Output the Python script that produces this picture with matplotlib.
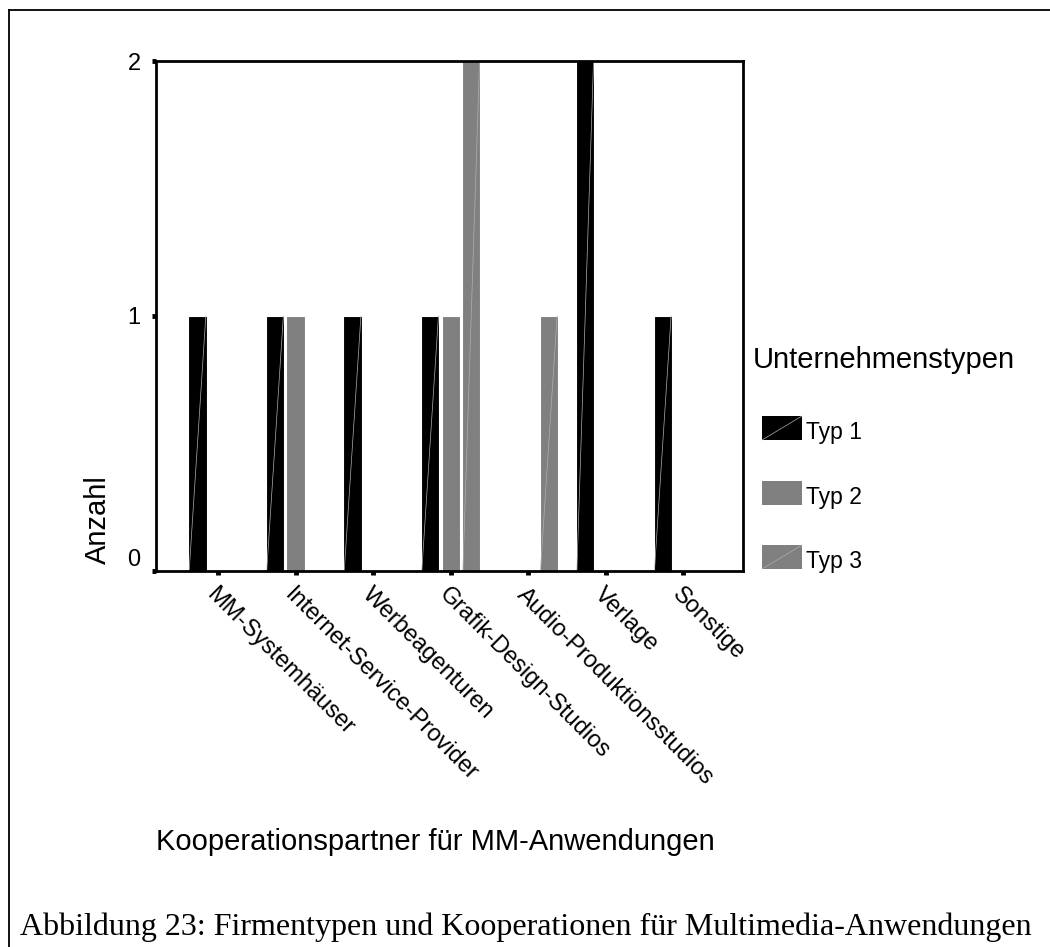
import numpy as np
import matplotlib
matplotlib.use("Agg")
import matplotlib.pyplot as plt
from matplotlib.patches import Rectangle
from matplotlib.lines import Line2D

plt.rcParams['font.family'] = ['Liberation Sans', 'DejaVu Sans']

# data
partner = ["MM-Systemhäuser", "Internet-Service-Provider", "Werbeagenturen",
           "Grafik-Design-Studios", "Audio-Produktionsstudios", "Verlage", "Sonstige"]
typ1 = [1, 1, 1, 1, 0, 2, 1]
typ2 = [0, 1, 0, 1, 0, 0, 0]
typ3 = [0, 0, 0, 2, 1, 0, 0]
typen = ["Typ 1", "Typ 2", "Typ 3"]
farben = ["black", "#808080", "#808080"]
mit_linie = [True, False, True]

W, H = 1050, 947
fig = plt.figure(figsize=(W / 100, H / 100), dpi=100)
ax = fig.add_axes([156 / W, 1 - 571 / H, (743 - 156) / W, (571 - 61) / H])

x = np.arange(len(partner))
off = 0.265
bw = 0.235
for k, (werte, col, lin) in enumerate(zip([typ1, typ2, typ3], farben, mit_linie)):
    bars = ax.bar(x + (k - 1) * off, werte, bw, color=col, edgecolor="white", linewidth=0.8)
    if lin:
        for b in bars:
            if b.get_height() > 0:
                x0 = b.get_x()
                ax.plot([x0 + 0.01, x0 + b.get_width() - 0.01], [0, b.get_height()],
                        color="#b0b0b0", lw=0.5, zorder=2)

ax.set_xlim(-0.8, 6.77)
ax.set_ylim(0, 2)
ax.set_yticks([0, 1, 2])
ax.set_yticklabels(["0", "1", "2"])
ax.set_xticks(x)
ax.set_xticklabels(partner, rotation=-45, ha="left", va="top", rotation_mode="anchor")
for sp in ax.spines.values():
    sp.set_linewidth(2)
ax.tick_params(axis="both", direction="out", length=3, width=3.5)
ax.tick_params(axis="x", pad=6, labelsize=17)
ax.tick_params(axis="y", pad=8, labelsize=17)
ax.get_yticklabels()[0].set_verticalalignment("bottom")

fig.text(98 / W, 1 - 520 / H, "Anzahl", rotation=90, ha="center", va="center", fontsize=21)
fig.text(435 / W, 1 - 850 / H, "Kooperationspartner für MM-Anwendungen",
         ha="center", va="baseline", fontsize=21)

# legend
fig.text(753 / W, 1 - 368 / H, "Unternehmenstypen", ha="left", va="baseline", fontsize=21)
tops = [416, 481, 545]
for name, col, lin, t in zip(typen, farben, mit_linie, tops):
    fig.patches.append(Rectangle((762 / W, 1 - (t + 24) / H), 40 / W, 24 / H,
                                 facecolor=col, edgecolor="none", transform=fig.transFigure))
    if lin:
        fig.lines.append(Line2D([762 / W, 802 / W], [1 - (t + 24) / H, 1 - t / H],
                                color="#b0b0b0", lw=0.5, transform=fig.transFigure))
    fig.text(806 / W, 1 - (t + 23) / H, name, ha="left", va="baseline", fontsize=16.5)

# frame lines of the figure box
fig.lines.append(Line2D([9 / W, 1.0], [1 - 10 / H, 1 - 10 / H], color="black", lw=1.3,
                        transform=fig.transFigure))
fig.lines.append(Line2D([9 / W, 9 / W], [1 - 10 / H, 0.0], color="black", lw=1.3,
                        transform=fig.transFigure))

fig.text(20 / W, 1 - 935 / H,
         "Abbildung 23: Firmentypen und Kooperationen für Multimedia-Anwendungen",
         ha="left", va="baseline", fontsize=23, family=["Liberation Serif", "DejaVu Serif"])

fig.savefig("out.png", dpi=100)
